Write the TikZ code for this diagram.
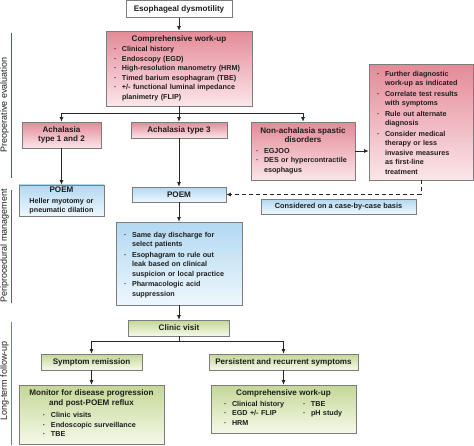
\documentclass[tikz,border=0pt]{standalone}
\usepackage{fontspec}
\setmainfont{Liberation Sans}
\usepackage{tikz}
\usetikzlibrary{arrows.meta, positioning}
\definecolor{pinktop}{RGB}{228,138,152}
\definecolor{pinkbot}{RGB}{251,230,233}
\definecolor{bluetop}{RGB}{178,216,241}
\definecolor{bluebot}{RGB}{238,247,253}
\definecolor{greentop}{RGB}{196,215,150}
\definecolor{greenbot}{RGB}{245,249,234}
\definecolor{boxline}{RGB}{125,125,125}
\definecolor{link}{RGB}{40,40,40}
\definecolor{txt}{RGB}{30,30,30}
\definecolor{preopline}{RGB}{180,45,75}
\definecolor{periline}{RGB}{45,105,180}
\definecolor{followline}{RGB}{105,150,65}
\newcommand{\hd}[1]{{\centering\fontsize{8.1}{9.5}\selectfont #1\par}\vspace{1pt}}
\newcommand{\dt}{\makebox[9pt][l]{\hspace{1pt}\textperiodcentered}}
\newcommand{\bl}[2][3pt]{\par\noindent\hspace*{#1}\dt\begin{tabular}[t]{@{}l@{}}#2\end{tabular}\par}

\begin{document}
\begin{tikzpicture}[x=1pt, y=1pt,
  font=\bfseries\fontsize{7.2}{9.5}\selectfont,
  box/.style={draw=boxline, line width=0.6pt, inner xsep=4pt, inner ysep=2pt, text=txt, align=left},
  pinkbox/.style={box, top color=pinktop, bottom color=pinkbot},
  bluebox/.style={box, top color=bluetop, bottom color=bluebot},
  greenbox/.style={box, top color=greentop, bottom color=greenbot},
  head/.style={font=\bfseries\fontsize{8.1}{9.5}\selectfont, align=center},
  arr/.style={draw=link, line width=0.8pt, -{Latex[length=4.5pt,width=4pt]}},
  side/.style={rotate=90, font=\fontsize{9}{11}\selectfont, text=txt},
  band/.style={line width=1.3pt}]
\useasboundingbox (0,0) rectangle (474,-445);
%
\node[box, head, minimum width=106, minimum height=16.5] (dys) at (179,-9) {Esophageal dysmotility};
\node[pinkbox, text width=138, minimum height=75] (work) at (179,-68.5)
  {\hd{Comprehensive work-up}\bl{Clinical history}\bl{Endoscopy (EGD)}\bl{High-resolution manometry (HRM)}%
   \bl{Timed barium esophagram (TBE)}\bl{+/- functional luminal impedance\\planimetry (FLIP)}};
\node[pinkbox, head, minimum width=79, minimum height=26] (ach12) at (61.5,-135) {Achalasia\\type 1 and 2};
\node[pinkbox, head, minimum width=96, minimum height=16] (ach3) at (179,-130) {Achalasia type 3};
\node[pinkbox, text width=96, minimum height=58] (nonach) at (303,-151)
  {\hd{Non-achalasia spastic\\disorders}\bl[0pt]{EGJOO}\bl[0pt]{DES or hypercontractile\\esophagus}};
\node[pinkbox, text width=96, minimum height=116] (further) at (421,-122)
  {\bl{Further diagnostic\\work-up as indicated}\bl{Correlate test results\\with symptoms}%
   \bl{Rule out alternate\\diagnosis}\bl{Consider medical\\therapy or less\\invasive measures\\as first-line\\treatment}};
%
\node[bluebox, text width=77, minimum height=27] (poem12) at (61.5,-200.5)
  {\hd{POEM}{\centering Heller myotomy or\\pneumatic dilation\par}};
\node[bluebox, head, minimum width=94, minimum height=15] (poem3) at (179,-194.5) {POEM};
\node[bluebox, font=\bfseries\fontsize{7.4}{9}\selectfont, minimum width=155, minimum height=15] (casebox) at (338.5,-206.5)
  {Considered on a case-by-case basis};
\node[bluebox, text width=118, minimum height=83] (peri) at (179,-263.5)
  {\bl{Same day discharge for\\select patients}\bl{Esophagram to rule out\\leak based on clinical\\suspicion or local practice}%
   \bl{Pharmacologic acid\\suppression}};
%
\node[greenbox, head, minimum width=101, minimum height=16] (clinic) at (179,-328) {Clinic visit};
\node[greenbox, head, minimum width=101, minimum height=16] (remis) at (91.5,-362) {Symptom remission};
\node[greenbox, head, minimum width=149, minimum height=16] (persist) at (283.5,-362) {Persistent and recurrent symptoms};
\node[greenbox, text width=137, minimum height=59] (monitor) at (91.5,-414.5)
  {\hd{Monitor for disease progression\\and post-POEM reflux}\vspace{2pt}\bl[19pt]{Clinic visits}%
   \bl[19pt]{Endoscopic surveillance}\bl[19pt]{TBE}};
\node[greenbox, text width=137, minimum height=48] (work2) at (283.5,-409)
  {\hd{Comprehensive work-up}\noindent\hspace*{8pt}\begin{tabular}[t]{@{}p{79pt}@{}l@{}}
   \dt Clinical history & \dt TBE\\ \dt EGD +/- FLIP & \dt pH study\\ \dt HRM & \end{tabular}};
%
\node[side] (preop) at (4.5,-105) {Preoperative evaluation};
\node[side] (periop) at (4.5,-246) {Periprocedural management};
\node[side] (follow) at (4.5,-381) {Long-term follow-up};
\draw[band, preopline] (11.5,-33) -- (11.5,-178);
\draw[band, periline] (11.5,-190) -- (11.5,-303);
\draw[band, followline] (11.5,-322) -- (11.5,-445);
%
\draw[arr] (dys) -- (work);
\draw[arr] (work) -- (ach3);
\draw[arr] (work.south) -- ++(0,-7) -| (ach12.north);
\draw[arr] (work.south) -- ++(0,-7) -| (nonach.north);
\draw[arr] (ach12) -- (poem12);
\draw[arr] (ach3) -- (poem3);
\draw[arr] (nonach.east) -- (nonach.east -| further.west);
\draw[arr, dashed, dash pattern=on 4pt off 3pt] (further.south) |- (poem3.east);
\draw[arr] (poem3) -- (peri);
\draw[arr] (peri) -- (clinic);
\draw[arr] (clinic.south) -- ++(0,-5) -| (remis.north);
\draw[arr] (clinic.south) -- ++(0,-5) -| (persist.north);
\draw[arr] (remis) -- (monitor);
\draw[arr] (persist) -- (work2);
%
\end{tikzpicture}
\end{document}
